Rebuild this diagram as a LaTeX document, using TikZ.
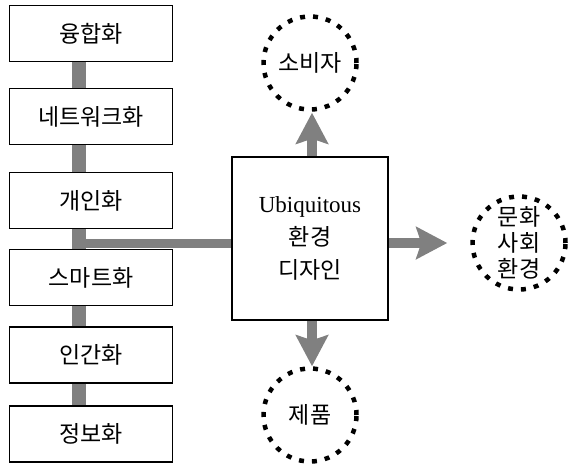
\documentclass[tikz,border=0pt]{standalone}
\usepackage{fontspec}
\setmainfont{Liberation Serif}
\newfontfamily\cjk{Noto Sans CJK KR}
\usetikzlibrary{arrows.meta}
\definecolor{bargray}{HTML}{808080}
\begin{document}
\begin{tikzpicture}[x=1pt,y=-1pt,
  lbox/.style={draw, line width=1.6pt, minimum width=163pt, minimum height=56pt, inner sep=0pt, font=\cjk\fontsize{23}{27}\selectfont},
  cbox/.style={draw, line width=1.6pt, minimum width=156pt, minimum height=163pt, inner sep=0pt, align=center, font=\cjk\fontsize{23}{33}\selectfont},
  dcirc/.style={circle, draw, line width=4.5pt, dash pattern=on 5pt off 8pt, minimum size=93pt, inner sep=0pt, align=center, font=\cjk\fontsize{23}{26}\selectfont},
  vbar/.style={draw=bargray, line width=14pt},
  hbar/.style={draw=bargray, line width=9pt},
  garrow/.style={draw=bargray, line width=10pt, -{Stealth[inset=5pt, length=31pt, width=32pt]}}
]
\useasboundingbox (0,0) rectangle (569,466);
% left column
\node[lbox] (b1) at (91,33.5) {융합화};
\node[lbox] (b2) at (91,116.5) {네트워크화};
\node[lbox] (b3) at (91,200.5) {개인화};
\node[lbox] (b4) at (91,277.5) {스마트화};
\node[lbox] (b5) at (91,355) {인간화};
\node[lbox] (b6) at (91,434) {정보화};
\coordinate (vx) at (79,0);
\coordinate (hy) at (0,243.5);
\draw[vbar] (b1.south -| vx) -- (b2.north -| vx);
\draw[vbar] (b2.south -| vx) -- (b3.north -| vx);
\draw[vbar] (b3.south -| vx) -- (b4.north -| vx);
\draw[vbar] (b4.south -| vx) -- (b5.north -| vx);
\draw[vbar] (b5.south -| vx) -- (b6.north -| vx);
% centre
\node[cbox] (ub) at (310,238.5) {{\rmfamily Ubiquitous}\\환경\\디자인};
\draw[hbar] (vx |- hy) -- (ub.west |- hy);
% circles
\node[dcirc] (c1) at (310,63) {소비자};
\node[dcirc] (c2) at (519,243) {문화\\사회\\환경};
\node[dcirc] (c3) at (310,415) {제품};
% arrows
\draw[garrow] ([xshift=2pt]ub.north) -- ([xshift=2pt,yshift=-1pt]c1.south);
\draw[garrow] (ub.east |- c2) -- ([xshift=-23pt]c2.west);
\draw[garrow] ([xshift=2pt]ub.south) -- ([xshift=2pt]c3.north);
\end{tikzpicture}
\end{document}
